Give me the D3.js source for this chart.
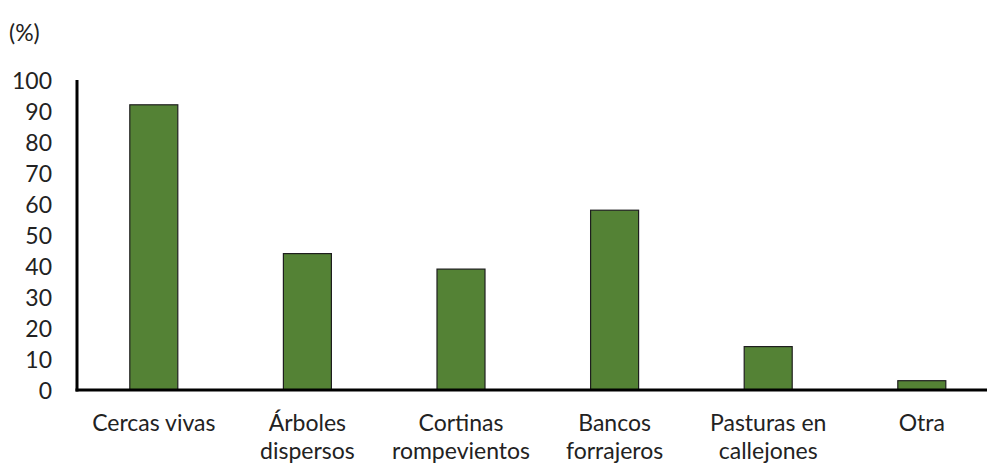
<!DOCTYPE html>
<html><head><meta charset="utf-8">
<script src="https://cdn.jsdelivr.net/npm/d3@7"></script>
<style>body{margin:0;background:#fff}svg{display:block}text{font-family:Lato,"Open Sans",sans-serif;fill:#222}</style>
</head><body>
<svg id="c" width="987" height="465"></svg>
<script>
const categories = [["Cercas vivas"],["Árboles","dispersos"],["Cortinas","rompevientos"],["Bancos","forrajeros"],["Pasturas en","callejones"],["Otra"]];
const values = [92, 44, 39, 58, 14, 3];
const yTicks = [0,10,20,30,40,50,60,70,80,90,100];
const unitLabel = "(%)";

const svg = d3.select("#c");
const x0 = 77, xEnd = 998.6;
const x = d3.scaleBand().domain(d3.range(categories.length)).range([x0, xEnd]).paddingInner(0.6875).paddingOuter(0.34375);
const y = d3.scaleLinear().domain([0,100]).range([390, 80]);

svg.selectAll("rect.bar").data(values).join("rect")
  .attr("class","bar")
  .attr("x",(d,i)=>x(i)).attr("width",x.bandwidth())
  .attr("y",d=>y(d)).attr("height",d=>y(0)-y(d))
  .attr("fill","#548235").attr("stroke","#1e1e1e").attr("stroke-width",1.2);

const yAxis = d3.axisLeft(y).tickValues(yTicks).tickSize(0).tickPadding(0);
const gy = svg.append("g").attr("transform",`translate(${x0},0)`).call(yAxis);
gy.select(".domain").remove();
gy.selectAll("text").attr("x",-25).attr("dy","0.36em").style("font-size","23px").style("font-family","Lato,'Open Sans',sans-serif").attr("fill","#222");

svg.append("line").attr("x1",x0).attr("x2",x0).attr("y1",y(100)).attr("y2",y(0)+1.5).attr("stroke","#000").attr("stroke-width",3);
svg.append("line").attr("x1",x0-1.5).attr("x2",987).attr("y1",y(0)).attr("y2",y(0)).attr("stroke","#000").attr("stroke-width",3);

const lineGap = 28;
const lab = svg.selectAll("g.cat").data(categories).join("g").attr("class","cat")
  .attr("transform",(d,i)=>`translate(${x(i)+x.bandwidth()/2},431)`);
lab.selectAll("text").data(d=>d).join("text").attr("text-anchor","middle").style("font-size","23px")
  .attr("x",0).attr("y",(d,j)=>j*lineGap).text(d=>d);

svg.append("text").attr("x",9).attr("y",41).style("font-size","23px").text(unitLabel);
</script>
</body></html>
